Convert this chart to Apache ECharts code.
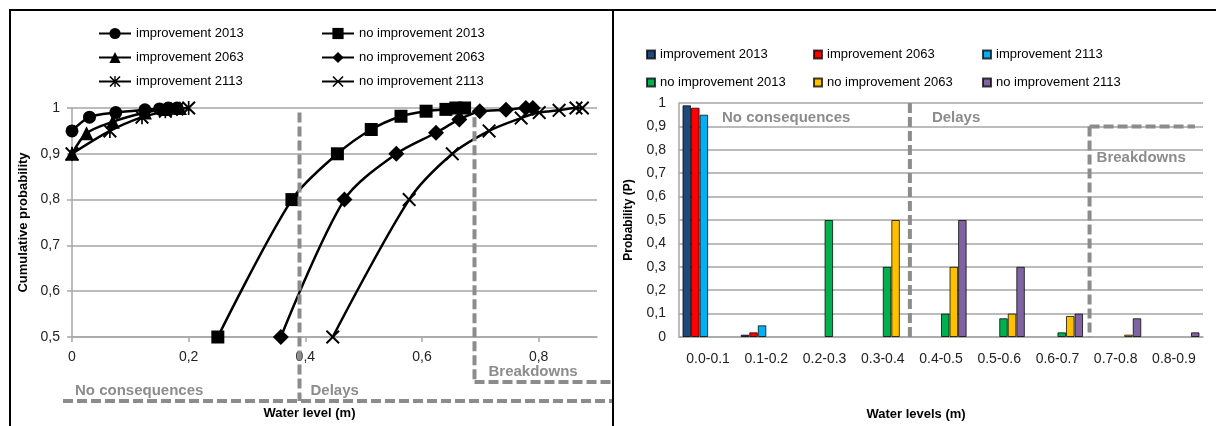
<!DOCTYPE html>
<html>
<head>
<meta charset="utf-8">
<script src="https://cdn.jsdelivr.net/npm/echarts@6/dist/echarts.min.js"></script>
<style>
  body { margin: 0; background: #fff; }
  #frame { position: absolute; left: 9px; top: 9px; width: 1300px; height: 500px; border-left: 2px solid #000; border-top: 2px solid #000; pointer-events: none; z-index: 2; }
  #divider { position: absolute; left: 612px; top: 9px; width: 2px; height: 430px; background: #000; z-index: 2; }
  #left { position: absolute; left: 0; top: 0; width: 612px; height: 426px; }
  #right { position: absolute; left: 614px; top: 0; width: 602px; height: 426px; }
</style>
</head>
<body>
<div id="left"></div>
<div id="right"></div>
<div id="frame"></div>
<div id="divider"></div>
<script>
// ---- left chart: cumulative probability vs water level [x, P]
var xTicks = [0, 0.2, 0.4, 0.6, 0.8];
var impr2013 = [[0, 0.95], [0.03, 0.98], [0.075, 0.99], [0.125, 0.996], [0.15, 0.998], [0.165, 1], [0.18, 1]];
var impr2063 = [[0, 0.9], [0.025, 0.945], [0.07, 0.97], [0.125, 0.99], [0.16, 0.998], [0.185, 1]];
var impr2113 = [[0, 0.9], [0.065, 0.95], [0.12, 0.98], [0.16, 0.993], [0.18, 0.998], [0.2, 1]];
var noImpr2013 = [[0.25, 0.5], [0.377, 0.8], [0.455, 0.9], [0.513, 0.953], [0.564, 0.982], [0.607, 0.993], [0.641, 0.997], [0.658, 1], [0.673, 1]];
var noImpr2063 = [[0.358, 0.5], [0.467, 0.8], [0.556, 0.9], [0.624, 0.946], [0.664, 0.975], [0.699, 0.993], [0.744, 0.996], [0.778, 1], [0.79, 1]];
var noImpr2113 = [[0.447, 0.5], [0.578, 0.8], [0.652, 0.9], [0.715, 0.95], [0.77, 0.978], [0.801, 0.99], [0.835, 0.995], [0.864, 1], [0.875, 1]];
var leftZones = [0.39, 0.69];

// ---- right chart: probability per water level class
var levelCats = ['0.0-0.1', '0.1-0.2', '0.2-0.3', '0.3-0.4', '0.4-0.5', '0.5-0.6', '0.6-0.7', '0.7-0.8', '0.8-0.9'];
var pImpr2013 = [0.99, 0.01, 0, 0, 0, 0, 0, 0, 0];
var pImpr2063 = [0.98, 0.02, 0, 0, 0, 0, 0, 0, 0];
var pImpr2113 = [0.95, 0.05, 0, 0, 0, 0, 0, 0, 0];
var pNo2013 = [0, 0, 0.5, 0.3, 0.1, 0.08, 0.02, 0, 0];
var pNo2063 = [0, 0, 0, 0.5, 0.3, 0.1, 0.09, 0.01, 0];
var pNo2113 = [0, 0, 0, 0, 0.5, 0.3, 0.1, 0.08, 0.02];

var FONT = '"Liberation Sans", Arial, sans-serif';
var GRID = '#a6a6a6';
var ZONE = '#8c8c8c';
var comma = function (v) { return String(+(+v).toFixed(2)).replace('.', ','); };

var xCross = 'path://M1,0 L5,4 L9,0 L10,1 L6,5 L10,9 L9,10 L5,6 L1,10 L0,9 L4,5 L0,1 Z';
var star = 'path://M1,0 L5,4 L9,0 L10,1 L6,5 L10,9 L9,10 L5,6 L1,10 L0,9 L4,5 L0,1 Z M4.4,0 L5.6,0 L5.6,10 L4.4,10 Z';

function lineSeries(name, data, symbol, size) {
  return {
    name: name, type: 'line', data: data, smooth: 0.3,
    symbol: symbol, symbolSize: size,
    lineStyle: { color: '#000', width: 2.5 },
    itemStyle: { color: '#000' }
  };
}

var leftChart = echarts.init(document.getElementById('left'));
var leftLegend = {
  orient: 'vertical', top: 27, padding: 0, itemWidth: 32, itemHeight: 14, itemGap: 11,
  textStyle: { fontFamily: FONT, fontSize: 13, color: '#000' }
};
leftChart.setOption({
  animation: false,
  textStyle: { fontFamily: FONT },
  legend: [
    Object.assign({ left: 98, data: ['improvement 2013', 'improvement 2063', 'improvement 2113'] }, leftLegend),
    Object.assign({ left: 321, data: ['no improvement 2013', 'no improvement 2063', 'no improvement 2113'] }, leftLegend)
  ],
  grid: { left: 72, right: 15, top: 108, bottom: 89 },
  xAxis: {
    type: 'value', min: 0, max: 0.9,
    name: 'Water level (m)', nameLocation: 'middle', nameGap: 70,
    nameTextStyle: { fontFamily: FONT, fontSize: 13, fontWeight: 'bold', color: '#000', padding: [0, 50, 0, 0] },
    axisLine: { lineStyle: { color: GRID, width: 1.5 } },
    axisTick: { customValues: xTicks, length: 5, lineStyle: { color: GRID, width: 1.5 } },
    axisLabel: { customValues: xTicks, formatter: comma, margin: 13, fontSize: 14, color: '#222' },
    splitLine: { show: false }
  },
  yAxis: {
    type: 'value', min: 0.5, max: 1, interval: 0.1,
    name: 'Cumulative probability', nameLocation: 'middle', nameGap: 39,
    nameTextStyle: { fontFamily: FONT, fontSize: 13, fontWeight: 'bold', color: '#000' },
    axisLine: { show: true, lineStyle: { color: GRID, width: 1.5 } },
    axisTick: { show: true, length: 5, lineStyle: { color: GRID, width: 1.5 } },
    axisLabel: { formatter: comma, margin: 12, fontSize: 14, color: '#222' },
    splitLine: { lineStyle: { color: GRID, width: 1.5 } }
  },
  series: [
    lineSeries('improvement 2013', impr2013, 'circle', 13),
    lineSeries('improvement 2063', impr2063, 'triangle', 14),
    lineSeries('improvement 2113', impr2113, star, 14),
    lineSeries('no improvement 2013', noImpr2013, 'rect', 13),
    lineSeries('no improvement 2063', noImpr2063, 'diamond', 16),
    lineSeries('no improvement 2113', noImpr2113, xCross, 14)
  ]
});

function dashed(x1, y1, x2, y2) {
  return { type: 'line', silent: true, z: 50,
    shape: { x1: x1, y1: y1, x2: x2, y2: y2 },
    style: { stroke: ZONE, lineWidth: 4, lineDash: [10, 4] } };
}
function zoneText(txt, x, y) {
  return { type: 'text', silent: true, z: 50,
    style: { text: txt, x: x, y: y, fill: ZONE, font: 'bold 15px ' + FONT, verticalAlign: 'middle' } };
}

var lx1 = leftChart.convertToPixel({ xAxisIndex: 0 }, leftZones[0]);
var lx2 = leftChart.convertToPixel({ xAxisIndex: 0 }, leftZones[1]);
var lyAxis = leftChart.convertToPixel({ yAxisIndex: 0 }, 0.5);
var lb1 = lyAxis + 64, lb2 = lyAxis + 45;
leftChart.setOption({
  graphic: [
    dashed(lx1, leftChart.convertToPixel({ yAxisIndex: 0 }, 0.99), lx1, lb1),
    dashed(63, lb1, 612, lb1),
    dashed(lx2, leftChart.convertToPixel({ yAxisIndex: 0 }, 0.98), lx2, lb2),
    dashed(lx2, lb2, 612, lb2),
    zoneText('No consequences', 75, lb1 - 10),
    zoneText('Delays', lx1 + 11, lb1 - 10),
    zoneText('Breakdowns', lx2 + 14, lb2 - 10)
  ]
});

// ---- right chart
var rightChart = echarts.init(document.getElementById('right'));
var rightLegend = {
  orient: 'vertical', top: 48, padding: 0, icon: 'rect', itemWidth: 8, itemHeight: 8, itemGap: 15,
  textStyle: { fontFamily: FONT, fontSize: 13, color: '#000' }
};
function barSeries(name, data, color) {
  return {
    name: name, type: 'bar', barGap: 0, barCategoryGap: '12%',
    data: data.map(function (v) { return v === 0 ? '-' : v; }),
    itemStyle: { color: color, borderColor: 'rgba(0,0,0,0.75)', borderWidth: 1 }
  };
}
rightChart.setOption({
  animation: false,
  textStyle: { fontFamily: FONT },
  legend: [
    Object.assign({ left: 32, data: ['improvement 2013', 'no improvement 2013'] }, rightLegend),
    Object.assign({ left: 199, data: ['improvement 2063', 'no improvement 2063'] }, rightLegend),
    Object.assign({ left: 368, data: ['improvement 2113', 'no improvement 2113'] }, rightLegend)
  ],
  grid: { left: 65, right: 13, top: 103, bottom: 88 },
  xAxis: {
    type: 'category', data: levelCats,
    name: 'Water levels (m)', nameLocation: 'middle', nameGap: 71,
    nameTextStyle: { fontFamily: FONT, fontSize: 13, fontWeight: 'bold', color: '#000', padding: [0, 50, 0, 0] },
    axisLine: { lineStyle: { color: GRID, width: 1.5 } },
    axisTick: { length: 5, lineStyle: { color: GRID, width: 1.5 } },
    axisLabel: { margin: 15, fontSize: 14, color: '#222', interval: 0 }
  },
  yAxis: {
    type: 'value', min: 0, max: 1, interval: 0.1,
    name: 'Probability (P)', nameLocation: 'middle', nameGap: 44,
    nameTextStyle: { fontFamily: FONT, fontSize: 12, fontWeight: 'bold', color: '#000' },
    axisLine: { show: true, lineStyle: { color: GRID, width: 1.5 } },
    axisTick: { show: false },
    axisLabel: { formatter: comma, margin: 13, fontSize: 14, color: '#222' },
    splitLine: { lineStyle: { color: GRID, width: 1.5 } }
  },
  series: [
    barSeries('improvement 2013', pImpr2013, '#1f497d'),
    barSeries('improvement 2063', pImpr2063, '#ff0000'),
    barSeries('improvement 2113', pImpr2113, '#00b0f0'),
    barSeries('no improvement 2013', pNo2013, '#00b050'),
    barSeries('no improvement 2063', pNo2063, '#ffc000'),
    barSeries('no improvement 2113', pNo2113, '#8064a2')
  ]
});

function catEdge(i) {
  var a = rightChart.convertToPixel({ xAxisIndex: 0 }, levelCats[i - 1]);
  var b = rightChart.convertToPixel({ xAxisIndex: 0 }, levelCats[i]);
  return (a + b) / 2;
}
var rx1 = catEdge(4) - 2, rx2 = catEdge(7) + 3;
var ry = function (v) { return rightChart.convertToPixel({ yAxisIndex: 0 }, v); };
rightChart.setOption({
  graphic: [
    dashed(rx1, ry(1), rx1, ry(0)),
    dashed(rx2, ry(0.9), rx2, ry(0)),
    dashed(rx2, ry(0.9), 581, ry(0.9)),
    zoneText('No consequences', 108, ry(0.937)),
    zoneText('Delays', rx1 + 22, ry(0.937)),
    zoneText('Breakdowns', rx2 + 7, ry(0.767))
  ]
});
</script>
</body>
</html>
